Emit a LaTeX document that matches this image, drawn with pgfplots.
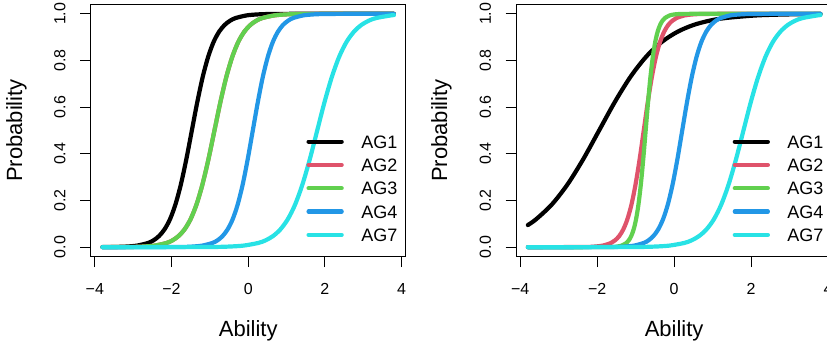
\documentclass[border=0pt]{standalone}
\usepackage{pgfplots}
\pgfplotsset{compat=1.18}
\usepackage{fontspec}
\setmainfont{Liberation Sans}
\definecolor{rred}{HTML}{DF536B}
\definecolor{rgreen}{HTML}{61D04F}
\definecolor{rblue}{HTML}{2297E6}
\definecolor{rcyan}{HTML}{28E2E5}
\pgfplotsset{
  rpanel/.style={
    scale only axis, width=#1, height=252pt,
    xmin=-4.108, xmax=4.108, ymin=-0.04, ymax=1.04,
    xtick={-4,-2,0,2,4}, xticklabels={−4,−2,0,2,4},
    ytick={0,0.2,0.4,0.6,0.8,1}, yticklabels={0.0,0.2,0.4,0.6,0.8,1.0},
    tick pos=left, tick align=outside, major tick length=10.5pt,
    every tick/.style={black, line width=0.9pt},
    axis line style={line width=0.9pt},
    tick label style={font=\fontsize{16}{16}\selectfont, inner sep=0pt},
    xticklabel style={anchor=base},
    yticklabel style={rotate=90, anchor=base},
    xticklabel shift=27.5pt,
    yticklabel shift=14.7pt,
    xlabel={Ability}, ylabel={Probability},
    label style={font=\fontsize{22}{22}\selectfont, inner sep=0pt},
    xlabel style={at={(axis description cs:0.5,-0.3194)}, anchor=base},
    ylabel style={at={(axis description cs:-0.218,0.5)}, anchor=base},
    legend image code/.code={\draw[##1, line width=4.2pt, line cap=round] (0pt,6.5pt) -- (33.1pt,6.5pt);},
    legend style={draw=none, fill=none, at={(axis cs:1.52,0.48)}, anchor=north west,
      inner sep=0pt, outer sep=0pt, row sep=10.3pt, column sep=17.5pt,
      font=\fontsize{18}{18}\selectfont,
      nodes={inner sep=0pt, text height=13pt, text depth=0pt, anchor=base west}},
    every axis plot/.append style={line width=4.2pt, line cap=round, line join=round, smooth},
  }
}
\begin{document}
\begin{tikzpicture}
\path[use as bounding box] (0pt,0pt) rectangle (827pt,348pt);
\clip (0pt,0pt) rectangle (827pt,348pt);
% ---------------- left panel ----------------
\begin{axis}[rpanel=315pt, at={(90.7pt,91.5pt)}, anchor=south west]
\addplot[black] coordinates {(-3.8,0.0003) (-3.47,0.0009) (-3.184,0.0025) (-2.899,0.0067) (-2.613,0.0180) (-2.47,0.0293) (-2.327,0.0474) (-2.184,0.0759) (-2.041,0.1192) (-1.899,0.1824) (-1.756,0.2689) (-1.613,0.3775) (-1.47,0.5) (-1.327,0.6225) (-1.184,0.7311) (-1.041,0.8176) (-0.899,0.8808) (-0.756,0.9241) (-0.613,0.9526) (-0.47,0.9707) (-0.327,0.9820) (-0.041,0.9933) (0.244,0.9975) (0.53,0.9991) (1.2,1.0) (2.5,1.0) (3.8,1.0)};
\addplot[rred] coordinates {(-3.8,0.0001) (-3.068,0.0009) (-2.755,0.0025) (-2.443,0.0067) (-2.13,0.0180) (-1.974,0.0293) (-1.818,0.0474) (-1.661,0.0759) (-1.505,0.1192) (-1.349,0.1824) (-1.193,0.2689) (-1.036,0.3775) (-0.88,0.5) (-0.724,0.6225) (-0.568,0.7311) (-0.411,0.8176) (-0.255,0.8808) (-0.099,0.9241) (0.058,0.9526) (0.214,0.9707) (0.37,0.9820) (0.683,0.9933) (0.995,0.9975) (1.308,0.9991) (2.0,1.0) (3.8,1.0)};
\addplot[rgreen] coordinates {(-3.8,0.0001) (-3.068,0.0009) (-2.755,0.0025) (-2.443,0.0067) (-2.13,0.0180) (-1.974,0.0293) (-1.818,0.0474) (-1.661,0.0759) (-1.505,0.1192) (-1.349,0.1824) (-1.193,0.2689) (-1.036,0.3775) (-0.88,0.5) (-0.724,0.6225) (-0.568,0.7311) (-0.411,0.8176) (-0.255,0.8808) (-0.099,0.9241) (0.058,0.9526) (0.214,0.9707) (0.37,0.9820) (0.683,0.9933) (0.995,0.9975) (1.308,0.9991) (2.0,1.0) (3.8,1.0)};
\addplot[rblue] coordinates {(-3.8,0.0) (-2.6,0.0002) (-1.722,0.0009) (-1.459,0.0025) (-1.196,0.0067) (-0.933,0.0180) (-0.801,0.0293) (-0.669,0.0474) (-0.538,0.0759) (-0.406,0.1192) (-0.275,0.1824) (-0.143,0.2689) (-0.012,0.3775) (0.12,0.5) (0.252,0.6225) (0.383,0.7311) (0.515,0.8176) (0.646,0.8808) (0.778,0.9241) (0.909,0.9526) (1.041,0.9707) (1.173,0.9820) (1.436,0.9933) (1.699,0.9975) (1.962,0.9991) (2.6,1.0) (3.8,1.0)};
\addplot[rcyan] coordinates {(-3.8,0.0) (-2.0,0.0001) (-0.892,0.0009) (-0.508,0.0025) (-0.123,0.0067) (0.262,0.0180) (0.454,0.0293) (0.646,0.0474) (0.838,0.0759) (1.031,0.1192) (1.223,0.1824) (1.415,0.2689) (1.608,0.3775) (1.8,0.5) (1.992,0.6225) (2.185,0.7311) (2.377,0.8176) (2.569,0.8808) (2.762,0.9241) (2.954,0.9526) (3.146,0.9707) (3.338,0.9820) (3.723,0.9933) (3.8,0.9945)};
\legend{AG1,AG2,AG3,AG4,AG7}
\end{axis}
% ---------------- right panel ----------------
\begin{axis}[rpanel=316.3pt, at={(516pt,91.5pt)}, anchor=south west]
\addplot[black] coordinates {(-3.8,0.0948) (-3.589,0.1192) (-3.18,0.1824) (-2.77,0.2689) (-2.36,0.3775) (-1.95,0.5) (-1.54,0.6225) (-1.13,0.7311) (-0.72,0.8176) (-0.311,0.8808) (0.099,0.9241) (0.509,0.9526) (0.919,0.9707) (1.329,0.9820) (2.148,0.9933) (2.968,0.9975) (3.8,0.9991)};
\addplot[rred] coordinates {(-3.8,0.0) (-3.0,0.0002) (-2.279,0.0009) (-2.067,0.0025) (-1.854,0.0067) (-1.641,0.0180) (-1.535,0.0293) (-1.428,0.0474) (-1.322,0.0759) (-1.216,0.1192) (-1.109,0.1824) (-1.003,0.2689) (-0.896,0.3775) (-0.79,0.5) (-0.684,0.6225) (-0.577,0.7311) (-0.471,0.8176) (-0.364,0.8808) (-0.258,0.9241) (-0.152,0.9526) (-0.045,0.9707) (0.061,0.9820) (0.274,0.9933) (0.487,0.9975) (0.699,0.9991) (1.3,1.0) (3.8,1.0)};
\addplot[rgreen] coordinates {(-3.8,0.0) (-2.5,0.0) (-1.615,0.0009) (-1.49,0.0025) (-1.365,0.0067) (-1.24,0.0180) (-1.1775,0.0293) (-1.115,0.0474) (-1.0525,0.0759) (-0.99,0.1192) (-0.9275,0.1824) (-0.865,0.2689) (-0.8025,0.3775) (-0.74,0.5) (-0.6775,0.6225) (-0.615,0.7311) (-0.5525,0.8176) (-0.49,0.8808) (-0.4275,0.9241) (-0.365,0.9526) (-0.3025,0.9707) (-0.24,0.9820) (-0.115,0.9933) (0.01,0.9975) (0.135,0.9991) (0.6,1.0) (3.8,1.0)};
\addplot[rblue] coordinates {(-3.8,0.0) (-2.5,0.0001) (-1.54,0.0009) (-1.29,0.0025) (-1.04,0.0067) (-0.79,0.0180) (-0.665,0.0293) (-0.54,0.0474) (-0.415,0.0759) (-0.29,0.1192) (-0.165,0.1824) (-0.04,0.2689) (0.085,0.3775) (0.21,0.5) (0.335,0.6225) (0.46,0.7311) (0.585,0.8176) (0.71,0.8808) (0.835,0.9241) (0.96,0.9526) (1.085,0.9707) (1.21,0.9820) (1.46,0.9933) (1.71,0.9975) (1.96,0.9991) (2.6,1.0) (3.8,1.0)};
\addplot[rcyan] coordinates {(-3.8,0.0) (-2.0,0.0001) (-0.892,0.0009) (-0.508,0.0025) (-0.123,0.0067) (0.262,0.0180) (0.454,0.0293) (0.646,0.0474) (0.838,0.0759) (1.031,0.1192) (1.223,0.1824) (1.415,0.2689) (1.608,0.3775) (1.8,0.5) (1.992,0.6225) (2.185,0.7311) (2.377,0.8176) (2.569,0.8808) (2.762,0.9241) (2.954,0.9526) (3.146,0.9707) (3.338,0.9820) (3.723,0.9933) (3.8,0.9945)};
\legend{AG1,AG2,AG3,AG4,AG7}
\end{axis}
\end{tikzpicture}
\end{document}
